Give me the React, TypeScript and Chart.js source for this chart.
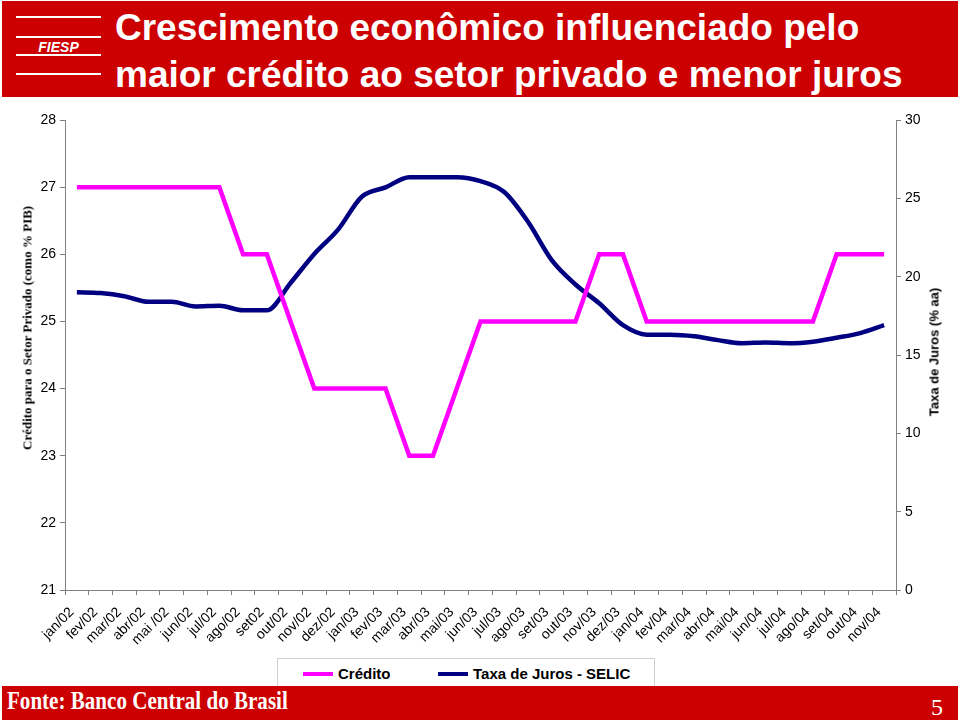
import React, { useEffect, useRef } from "react";
import { Chart, registerables } from "chart.js";

Chart.register(...registerables);

const categories: string[] = [
  "jan/02", "fev/02", "mar/02", "abr/02", "mai /02", "jun/02", "jul/02", "ago/02", "set02",
  "out/02", "nov/02", "dez/02", "jan/03", "fev/03", "mar/03", "abr/03", "mai/03", "jun/03",
  "jul/03", "ago/03", "set/03", "out/03", "nov/03", "dez/03", "jan/04", "fev/04", "mar/04",
  "abr/04", "mai/04", "jun/04", "jul/04", "ago/04", "set/04", "out/04", "nov/04",
];

const credito: number[] = [
  27, 27, 27, 27, 27, 27, 27, 26, 26, 25, 24, 24, 24, 24, 23, 23, 24, 25,
  25, 25, 25, 25, 26, 26, 25, 25, 25, 25, 25, 25, 25, 25, 26, 26, 26,
];

const selic: number[] = [
  19.0, 18.95, 18.75, 18.4, 18.4, 18.1, 18.15, 17.85, 17.85, 19.6, 21.45, 23.0, 25.1, 25.7,
  26.35, 26.35, 26.35, 26.1, 25.4, 23.5, 21.05, 19.5, 18.3, 16.9, 16.3, 16.3, 16.2, 15.95,
  15.75, 15.8, 15.75, 15.85, 16.1, 16.4, 16.9,
];

const seriesNames: string[] = ["Crédito", "Taxa de Juros - SELIC"];
const seriesColors: string[] = ["#FF00FF", "#000080"];

const leftTicks = { min: 21, max: 28, step: 1 };
const rightTicks = { min: 0, max: 30, step: 5 };

const titleLines: string[] = [
  "Crescimento econômico influenciado pelo",
  "maior crédito ao setor privado e menor juros",
];
const leftAxisTitle = "Crédito para o Setor Privado (como % PIB)";
const rightAxisTitle = "Taxa de Juros (% aa)";
const sourceText = "Fonte: Banco Central do Brasil";
const pageNumber = "5";

const RED = "#CC0000";
const AXIS_GREY = "#808080";
const SANS = '"Liberation Sans", Arial, sans-serif';
const SERIF = '"Liberation Serif", "Times New Roman", serif';

export default function App() {
  const canvasRef = useRef<HTMLCanvasElement | null>(null);

  useEffect(() => {
    const canvas = canvasRef.current;
    if (!canvas) return;
    const chart = new Chart(canvas, {
      type: "line",
      data: {
        labels: categories,
        datasets: [
          {
            label: seriesNames[0],
            data: credito,
            borderColor: seriesColors[0],
            backgroundColor: seriesColors[0],
            borderWidth: 4.5,
            pointRadius: 0,
            tension: 0,
            yAxisID: "y",
          },
          {
            label: seriesNames[1],
            data: selic,
            borderColor: seriesColors[1],
            backgroundColor: seriesColors[1],
            borderWidth: 4.5,
            pointRadius: 0,
            cubicInterpolationMode: "monotone",
            yAxisID: "y1",
          },
        ],
      },
      options: {
        responsive: false,
        animation: false,
        devicePixelRatio: 1,
        layout: { padding: { top: 120, left: 0, right: 0, bottom: 0 } },
        plugins: {
          legend: { display: false },
          tooltip: { enabled: false },
        },
        scales: {
          x: {
            type: "category",
            offset: true,
            grid: {
              offset: true,
              drawOnChartArea: false,
              drawTicks: true,
              tickLength: 5,
              color: AXIS_GREY,
            },
            border: { display: true, color: AXIS_GREY, width: 1 },
            ticks: {
              autoSkip: false,
              minRotation: 45,
              maxRotation: 45,
              padding: 9,
              labelOffset: -5,
              color: "#000",
              font: { family: SANS, size: 14 },
            },
            afterFit: (scale: any) => {
              scale.height = 130;
            },
          },
          y: {
            type: "linear",
            position: "left",
            min: leftTicks.min,
            max: leftTicks.max,
            ticks: {
              stepSize: leftTicks.step,
              color: "#000",
              padding: 4,
              font: { family: SANS, size: 14 },
            },
            grid: {
              drawOnChartArea: false,
              drawTicks: true,
              tickLength: 5,
              color: AXIS_GREY,
            },
            border: { display: true, color: AXIS_GREY, width: 1 },
            afterFit: (scale: any) => {
              scale.width = 65;
            },
          },
          y1: {
            type: "linear",
            position: "right",
            min: rightTicks.min,
            max: rightTicks.max,
            ticks: {
              stepSize: rightTicks.step,
              color: "#000",
              padding: 4,
              font: { family: SANS, size: 14 },
            },
            grid: {
              drawOnChartArea: false,
              drawTicks: true,
              tickLength: 5,
              color: AXIS_GREY,
            },
            border: { display: true, color: AXIS_GREY, width: 1 },
            afterFit: (scale: any) => {
              scale.width = 64;
            },
          },
        },
      },
    } as any);
    return () => {
      chart.destroy();
    };
  }, []);

  const logoLineTops = [17, 37, 55, 74];

  return (
    <div
      style={{
        position: "absolute",
        left: 0,
        top: 0,
        width: 960,
        height: 720,
        background: "#fff",
        overflow: "hidden",
        fontFamily: SANS,
      }}
    >
      <canvas
        ref={canvasRef}
        width={960}
        height={720}
        style={{ position: "absolute", left: 0, top: 0, width: 960, height: 720 }}
      />

      {/* Header */}
      <div
        style={{
          position: "absolute",
          left: 2,
          top: 1,
          width: 956,
          height: 96,
          background: RED,
        }}
      >
        {logoLineTops.map((t, i) => (
          <div
            key={i}
            style={{
              position: "absolute",
              left: 14,
              top: t - 2,
              width: 85,
              height: 2,
              background: "#fff",
            }}
          />
        ))}
        <div
          style={{
            position: "absolute",
            left: 14,
            width: 85,
            top: 39,
            fontSize: 14,
            lineHeight: "14px",
            fontWeight: "bold",
            fontStyle: "italic",
            color: "#fff",
            textAlign: "center",
          }}
        >
          FIESP
        </div>
        {titleLines.map((line, i) => (
          <div
            key={i}
            style={{
              position: "absolute",
              left: 113,
              top: i === 0 ? 7.7 : 54.7,
              fontSize: 37,
              lineHeight: "37px",
              fontWeight: "bold",
              color: "#fff",
              whiteSpace: "nowrap",
            }}
          >
            {line}
          </div>
        ))}
      </div>

      {/* Axis titles */}
      <div
        style={{
          position: "absolute",
          left: 27,
          top: 328,
          transform: "translate(-50%, -50%) rotate(-90deg)",
          fontFamily: SERIF,
          fontWeight: "bold",
          fontSize: 13,
          lineHeight: "13px",
          whiteSpace: "nowrap",
          color: "#000",
        }}
      >
        {leftAxisTitle}
      </div>
      <div
        style={{
          position: "absolute",
          left: 934,
          top: 352,
          transform: "translate(-50%, -50%) rotate(-90deg)",
          fontWeight: "bold",
          fontSize: 13,
          lineHeight: "13px",
          whiteSpace: "nowrap",
          color: "#000",
        }}
      >
        {rightAxisTitle}
      </div>

      {/* Legend */}
      <div
        style={{
          position: "absolute",
          left: 277,
          top: 658,
          width: 376,
          height: 27,
          border: "1px solid #d0d0d0",
          background: "#fff",
        }}
      >
        {seriesNames.map((name, i) => (
          <React.Fragment key={i}>
            <div
              style={{
                position: "absolute",
                left: (i === 0 ? 303 : 438) - 278,
                top: 13,
                width: 30,
                height: 4,
                background: seriesColors[i],
              }}
            />
            <div
              style={{
                position: "absolute",
                left: (i === 0 ? 338 : 473) - 278,
                top: 7,
                fontSize: 15,
                lineHeight: "15px",
                fontWeight: "bold",
                whiteSpace: "nowrap",
                color: "#000",
              }}
            >
              {name}
            </div>
          </React.Fragment>
        ))}
      </div>

      {/* Footer */}
      <div
        style={{
          position: "absolute",
          left: 2,
          top: 686,
          width: 956,
          height: 34,
          background: RED,
        }}
      >
        <div
          style={{
            position: "absolute",
            left: 5,
            top: 2,
            fontFamily: SERIF,
            fontWeight: "bold",
            fontSize: 26,
            lineHeight: "26px",
            color: "#fff",
            whiteSpace: "nowrap",
            transform: "scaleX(0.81)",
            transformOrigin: "left center",
          }}
        >
          {sourceText}
        </div>
        <div
          style={{
            position: "absolute",
            left: 929,
            top: 9,
            fontFamily: SERIF,
            fontSize: 24,
            lineHeight: "24px",
            color: "#fff",
          }}
        >
          {pageNumber}
        </div>
      </div>
    </div>
  );
}
